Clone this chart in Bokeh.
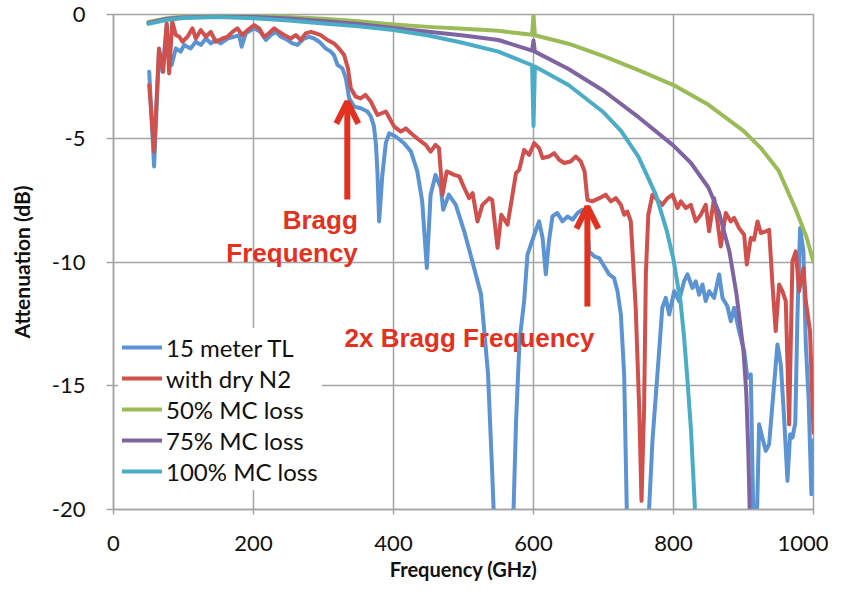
from bokeh.plotting import figure
from bokeh.models import Range1d, FixedTicker, Arrow, OpenHead, Label, Legend, LegendItem
from bokeh.embed import file_html
from bokeh.resources import INLINE

# ---------------- data ----------------
x_ticks = [0, 200, 400, 600, 800, 1000]
y_ticks = [-20, -15, -10, -5, 0]
y_tick_labels = ["-20", "-15", "-10", "-5", "0"]
x_title = "Frequency (GHz)"
y_title = "Attenuation (dB)"
series_names = ["15 meter TL", "with dry N2", "50% MC loss", "75% MC loss", "100% MC loss"]

tl_f = [51, 58, 65, 70, 76, 80, 83, 89, 96, 101, 110, 117.6, 124.7, 132, 139, 146, 153, 163, 172,
        179.5, 183, 189, 201, 210, 217.6, 224.7, 232, 239, 248.5, 255.7, 262.8, 272, 279.5, 286.6,
        293.8, 303, 310.4, 315, 320, 327, 332, 336.6, 343.8, 353, 362.8, 367.6, 372, 375, 377,
        379.5, 384, 389, 393.8, 403, 415, 425, 434, 441, 447.6, 453, 460, 467.6, 471, 479, 489,
        501, 510, 525, 535, 541, 545, 570, 575, 580, 586.6, 591.4, 601, 608, 613, 617.6, 622, 627,
        634, 641.4, 648.6, 655.7, 663, 670, 675, 679.5, 686.7, 693.8, 701, 708, 715, 720, 724.8,
        729.5, 733.3, 736, 763, 765, 770, 777, 784, 789, 793.8, 801, 808, 815, 820, 827, 831.8,
        836.6, 841.4, 846, 850.9, 858, 865.2, 870, 877, 881.8, 886.6, 893.7, 900.9, 905.6, 910.4,
        914.2, 919, 922.3, 927, 931.8, 936.6, 943.7, 948.5, 953.3, 958, 962.8, 966.6, 970, 974,
        977, 980.9, 985.6, 989, 993, 997, 1000]
tl_db = [-2.31, -6.14, -1.5, -2.31, -0.43, -1.6, -2.04, -1.37, -1.5, -1.23, -1.37, -1.1, -1.23,
         -0.97, -1.17, -1.03, -1.17, -0.97, -0.9, -0.83, -1.3, -0.76, -0.56, -0.7, -1.03, -0.83,
         -0.7, -0.9, -1.03, -1.17, -1.23, -0.97, -0.9, -0.97, -1.1, -1.37, -1.5, -1.64, -2.04,
         -2.18, -2.58, -3.39, -3.72, -3.79, -3.92, -4.12, -4.5, -5.27, -6.34, -8.36, -6.5, -5.2,
         -4.8, -4.93, -5.2, -5.54, -6.34, -7.55, -10.24, -7.28, -6.48, -7.0, -7.89, -7.28, -7.69,
         -8.76, -9.7, -11.3, -14.5, -18.5, -21.5, -21.5, -16.5, -13.2, -11.58, -9.7, -8.9, -8.36,
         -9.03, -10.5, -9.17, -8.16, -8.02, -8.36, -8.16, -8.29, -8.02, -7.89, -8.0, -9.57, -9.77,
         -9.84, -10.17, -10.5, -10.64, -11.18, -12.12, -14.54, -20.05, -22, -22, -20.05, -17.2,
         -14.54, -11.85, -11.45, -12.12, -11.18, -11.58, -10.78, -10.5, -11.05, -10.78, -11.32,
         -10.91, -11.58, -11.18, -11.45, -10.5, -11.45, -11.79, -12.39, -11.85, -12.79, -13.6,
         -14.68, -14.54, -20.5, -20.5, -16.56, -17.1, -17.63, -17.36, -14.95, -13.33, -14.14,
         -16.29, -18.84, -16.96, -17.1, -16.5, -12.26, -8.63, -9.57, -13.33, -15.5, -19.38, -17.2]

n2_f = [51, 58, 65, 71, 76, 79.5, 84, 89, 94, 98.5, 105.7, 112.8, 117.6, 124.7, 132, 139, 146,
        155.7, 162.8, 170, 177, 184, 191.4, 201, 208, 215, 222, 229.5, 236.6, 243.8, 253, 260.4,
        267.6, 274.7, 282, 289, 296, 305.7, 315, 322, 329.5, 335, 339, 346, 353, 360, 367.6, 377,
        389, 401, 410.5, 417.6, 425, 436.6, 446, 453, 460, 465, 470, 476, 486.7, 494, 501, 508,
        513, 520, 527, 537, 541, 548.6, 554, 563, 570, 575, 579.5, 586.6, 593.8, 601, 608, 613,
        622, 629.5, 636.7, 643.8, 653, 660.5, 667.6, 673, 677, 684, 694, 703, 710.5, 717.6, 724.8,
        729.5, 734, 739, 746, 751, 754.3, 758, 760.5, 764, 770, 777, 784, 791.4, 798.6, 805.7,
        810.4, 817.5, 824.7, 831.8, 839, 846, 850.9, 858, 862.8, 867.5, 874.7, 881.8, 886.6,
        893.7, 900.9, 904.7, 910.4, 915, 920, 924.7, 931.8, 936.6, 941.4, 946, 950.9, 955.6,
        960.4, 965.2, 969.9, 974.7, 979.4, 985.6, 989, 995, 1000]
n2_db = [-2.85, -5.54, -1.37, -2.31, -0.36, -2.38, -0.29, -0.83, -0.9, -1.1, -0.9, -0.56, -0.97,
         -0.63, -0.9, -0.7, -1.1, -0.97, -0.9, -0.7, -0.56, -0.83, -0.63, -0.43, -0.56, -0.9,
         -0.76, -0.56, -0.7, -0.83, -0.97, -0.83, -1.03, -0.76, -0.7, -0.76, -0.83, -1.03, -1.17,
         -1.37, -1.64, -2.18, -2.98, -3.32, -3.39, -3.25, -3.52, -4.06, -3.92, -4.53, -4.73, -4.6,
         -4.8, -5.07, -5.27, -5.54, -5.27, -5.4, -7.28, -6.34, -6.48, -6.54, -7.0, -7.42, -7.22,
         -8.36, -7.69, -7.42, -7.49, -9.43, -8.09, -8.49, -7.28, -6.41, -6.28, -5.47, -5.67, -5.2,
         -5.4, -5.8, -5.74, -5.6, -5.87, -6.0, -5.94, -5.74, -5.94, -6.34, -7.49, -7.55, -7.42,
         -7.28, -7.55, -7.42, -7.69, -8.09, -7.96, -8.36, -11.85, -15.9, -19.65, -15.9, -10.5,
         -8.09, -7.28, -7.49, -7.69, -7.42, -7.28, -7.82, -7.55, -7.82, -7.69, -8.36, -8.09, -7.69,
         -8.76, -7.42, -8.36, -9.37, -8.02, -8.36, -8.22, -8.63, -8.9, -10.1, -9.03, -9.1, -8.36,
         -8.83, -8.76, -8.7, -10.91, -12.79, -10.91, -11.18, -11.58, -16.56, -9.97, -9.57, -11.18,
         -10.24, -11.58, -12.8, -16.9]

mc50_f = [50, 75, 100, 150, 200, 250, 300, 350, 400, 450, 500, 550, 598, 600, 602, 650, 700, 750,
          800, 850, 900, 925, 950, 975, 990, 1000]
mc50_db = [-0.3, -0.16, -0.08, -0.04, -0.06, -0.1, -0.17, -0.27, -0.4, -0.5, -0.58, -0.66, -0.82,
           0.0, -0.84, -1.18, -1.68, -2.25, -2.85, -3.65, -4.7, -5.4, -6.3, -7.9, -9.0, -10.0]

mc75_f = [50, 75, 100, 150, 200, 250, 300, 350, 400, 450, 500, 550, 598, 600, 602, 650, 700, 750,
          800, 825, 850, 865, 880, 890, 900, 904, 907, 909, 912]
mc75_db = [-0.35, -0.18, -0.12, -0.08, -0.1, -0.16, -0.26, -0.38, -0.54, -0.7, -0.85, -1.03, -1.46,
           -1.05, -1.5, -2.2, -3.08, -4.15, -5.3, -6.0, -7.0, -8.0, -9.6, -11.3, -13.6, -15.3,
           -17.8, -20.2, -25]

mc100_f = [50, 75, 100, 150, 200, 250, 300, 350, 400, 450, 500, 550, 598, 600, 602, 650, 700, 725,
           750, 775, 790, 800, 810, 815, 820, 825, 830, 835]
mc100_db = [-0.38, -0.22, -0.14, -0.1, -0.15, -0.24, -0.36, -0.48, -0.63, -0.85, -1.15, -1.5, -2.05,
            -4.5, -2.1, -2.85, -3.95, -4.7, -5.75, -7.3, -8.7, -9.9, -11.6, -13.0, -14.8, -16.8,
            -19.6, -23]

bragg_f = 334
bragg2_f = 677

# ---------------- styling ----------------
GRID = "#A3A3A3"
RED = "#E2321F"
TXT = "#111111"
colors = ["#5B93D3", "#D0504D", "#9BBB59", "#8064A2", "#4BACC6"]

p = figure(width=828, height=588, output_backend="svg", toolbar_location=None,
           x_range=Range1d(0, 1000), y_range=Range1d(-20, 0),
           min_border_left=113, min_border_right=15, min_border_top=14, min_border_bottom=79)
p.background_fill_color = "white"
p.border_fill_color = "white"
p.outline_line_color = GRID
p.outline_line_width = 1.5

p.xaxis.ticker = FixedTicker(ticks=x_ticks)
p.yaxis.ticker = FixedTicker(ticks=y_ticks)
p.xgrid.ticker = FixedTicker(ticks=x_ticks)
p.ygrid.ticker = FixedTicker(ticks=y_ticks)
p.yaxis.major_label_overrides = dict(zip(y_ticks, y_tick_labels))
p.grid.grid_line_color = GRID
p.grid.grid_line_width = 1.5

p.xaxis.axis_label = x_title
p.yaxis.axis_label = y_title
for ax in (p.xaxis[0], p.yaxis[0]):
    ax.axis_line_color = GRID
    ax.axis_line_width = 1.5
    ax.major_tick_line_color = GRID
    ax.major_tick_line_width = 1.5
    ax.major_tick_in = 0
    ax.minor_tick_out = 0
    ax.minor_tick_in = 0
    ax.major_label_text_font = "Lato"
    ax.major_label_text_font_size = "22px"
    ax.major_label_text_color = TXT
    ax.axis_label_text_font = "Lato"
    ax.axis_label_text_font_style = "bold"
    ax.axis_label_text_color = TXT
p.yaxis.major_tick_out = 7
p.yaxis.major_label_standoff = 21
p.yaxis.axis_label_standoff = 15
p.yaxis.axis_label_text_font_size = "21px"
p.xaxis.major_tick_out = 5
p.xaxis.major_label_standoff = 21
p.xaxis.axis_label_standoff = 3
p.xaxis.axis_label_text_font_size = "20px"

xs = [tl_f, n2_f, mc50_f, mc75_f, mc100_f]
ys = [tl_db, n2_db, mc50_db, mc75_db, mc100_db]
renderers = []
for xv, yv, c in zip(xs, ys, colors):
    r = p.line(xv, yv, line_color=c, line_width=4, line_join="round", line_cap="round")
    renderers.append(r)

legend = Legend(items=[LegendItem(label=n, renderers=[r]) for n, r in zip(series_names, renderers)],
                location=(5, 19), label_text_font="Lato", label_text_font_size="24px",
                label_text_color=TXT, glyph_width=40, glyph_height=30, label_height=30,
                spacing=1, padding=4, margin=0, label_standoff=4,
                border_line_alpha=0, background_fill_color="white", background_fill_alpha=1)
p.add_layout(legend)

for fx, y0, y1 in [(bragg_f, -7.47, -3.52), (bragg2_f, -11.8, -7.76)]:
    p.add_layout(Arrow(end=OpenHead(size=22, line_color=RED, line_width=6),
                       x_start=fx, y_start=y0, x_end=fx, y_end=y1,
                       line_color=RED, line_width=6))

lab_kw = dict(text_font="Liberation Sans", text_font_style="bold", text_font_size="26px",
              text_color=RED, text_baseline="alphabetic")
p.add_layout(Label(x=349, y=-8.29, text="Bragg", text_align="right", **lab_kw))
p.add_layout(Label(x=349, y=-9.64, text="Frequency", text_align="right", **lab_kw))
p.add_layout(Label(x=330, y=-13.06, text="2x Bragg Frequency", text_align="left", **lab_kw))

open("out.html", "w").write(file_html(p, INLINE))
